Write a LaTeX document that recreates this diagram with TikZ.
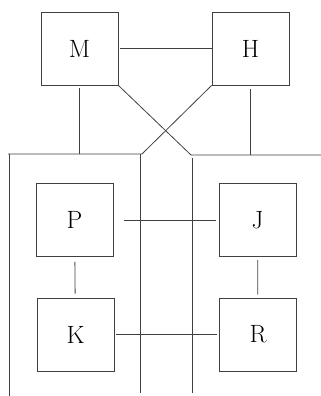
\documentclass[tikz,border=0pt]{standalone}
\begin{document}
\begin{tikzpicture}[x=1pt,y=-1pt,
  box/.style={draw=black!75,line width=0.8pt,minimum width=77pt,minimum height=73pt,inner sep=0pt,font=\fontsize{25}{30}\selectfont},
  ln/.style={draw=black!75,line width=0.8pt}]
\useasboundingbox (0,0) rectangle (321,396);
\node[box] (M) at (79.5,48.5) {M};
\node[box] (H) at (250.5,48.5) {H};
\node[box] (P) at (74.5,220) {P};
\node[box] (J) at (257.5,220) {J};
\node[box] (K) at (75.5,334.5) {K};
\node[box] (R) at (258,334.5) {R};
\coordinate (l1) at (8,154);
\coordinate (l2) at (142,154);
\coordinate (r1) at (191,155);
\coordinate (r2) at (321,155);
\coordinate (lt) at (9,154);
\coordinate (lb) at (9,396);
\coordinate (c1) at (140,154);
\coordinate (c1b) at (140,393);
\coordinate (c2) at (192,158);
\coordinate (c2b) at (192,393);
\draw[ln,shorten <=2pt] (M) -- (H);
\draw[ln,shorten <=3pt] (M.south) -- (M.south |- l1);
\draw[ln,shorten <=4pt] (H.south) -- (H.south |- r1);
\draw[ln] (l1) -- (l2) -- (H.south west);
\draw[ln] (M.south east) -- (r1) -- (r2);
\draw[ln] (lt) -- (lb);
\draw[ln] (c1) -- (c1b);
\draw[ln] (c2) -- (c2b);
\draw[ln,shorten <=11pt,shorten >=3pt] (P) -- (J);
\draw[ln,shorten <=2pt,shorten >=2pt] (K) -- (R);
\draw[ln,shorten <=5pt,shorten >=4pt] (P) -- (K);
\draw[ln,shorten <=3pt,shorten >=3pt] (J) -- (R);
\end{tikzpicture}
\end{document}
